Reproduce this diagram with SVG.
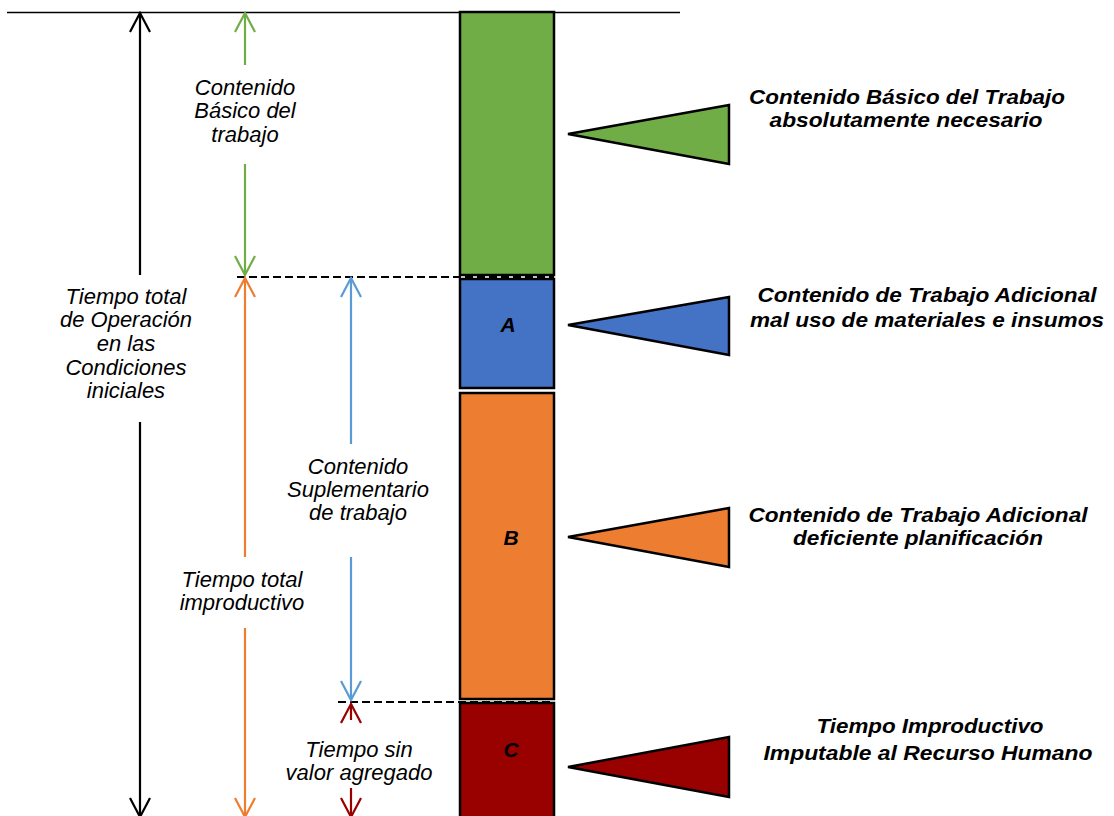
<svg xmlns="http://www.w3.org/2000/svg" width="1114" height="816" viewBox="0 0 1114 816">
<style>
.bar{stroke:#000;stroke-width:2.5}
.tri{stroke:#000;stroke-width:2.5;stroke-linejoin:miter}
.lbl{font-family:"Liberation Sans",Arial,sans-serif;font-size:21px;font-weight:bold;font-style:italic;fill:#000;text-anchor:middle}
.dim{font-family:"Liberation Sans",Arial,sans-serif;font-size:22px;font-style:italic;fill:#000;text-anchor:middle}
.ax{fill:none;stroke-width:2.2}
.dash{fill:none;stroke:#000;stroke-width:1.8;stroke-dasharray:8 4}
</style>
<defs>
<marker id="mk" viewBox="-22 -12 24 24" markerWidth="24" markerHeight="24" refX="0" refY="0" orient="auto-start-reverse" markerUnits="userSpaceOnUse"><path d="M-19,-10 L0,0 L-19,10" fill="none" stroke="#000" stroke-width="2.2"/></marker>
<marker id="mg" viewBox="-22 -12 24 24" markerWidth="24" markerHeight="24" refX="0" refY="0" orient="auto-start-reverse" markerUnits="userSpaceOnUse"><path d="M-19,-10 L0,0 L-19,10" fill="none" stroke="#70AD47" stroke-width="2.2"/></marker>
<marker id="mo" viewBox="-22 -12 24 24" markerWidth="24" markerHeight="24" refX="0" refY="0" orient="auto-start-reverse" markerUnits="userSpaceOnUse"><path d="M-19,-10 L0,0 L-19,10" fill="none" stroke="#ED7D31" stroke-width="2.2"/></marker>
<marker id="mb" viewBox="-22 -12 24 24" markerWidth="24" markerHeight="24" refX="0" refY="0" orient="auto-start-reverse" markerUnits="userSpaceOnUse"><path d="M-19,-10 L0,0 L-19,10" fill="none" stroke="#5B9BD5" stroke-width="2.2"/></marker>
<marker id="mr" viewBox="-22 -12 24 24" markerWidth="24" markerHeight="24" refX="0" refY="0" orient="auto-start-reverse" markerUnits="userSpaceOnUse"><path d="M-19,-10 L0,0 L-19,10" fill="none" stroke="#990000" stroke-width="2.2"/></marker>
</defs>
<rect width="1114" height="816" fill="#fff"/>
<line x1="7" y1="12.5" x2="680" y2="12.5" stroke="#000" stroke-width="1.5"/>

<g id="bar-basico"><rect class="bar" x="460" y="12" width="94" height="263" fill="#70AD47"/></g>
<g id="bar-a"><rect class="bar" x="460" y="279" width="94" height="109" fill="#4472C4"/><text class="lbl" x="508" y="332">A</text></g>
<g id="bar-b"><rect class="bar" x="460" y="393" width="94" height="306" fill="#ED7D31"/><text class="lbl" x="511" y="545">B</text></g>
<g id="bar-c"><rect class="bar" x="460" y="703" width="94" height="125" fill="#990000"/><text class="lbl" x="511" y="757">C</text></g>

<g id="flag-basico"><polygon class="tri" points="568,134 729,105 729,164" fill="#70AD47"/>
<text class="lbl" x="907" y="104" textLength="316" lengthAdjust="spacingAndGlyphs">Contenido Básico del Trabajo</text>
<text class="lbl" x="906" y="127" textLength="273" lengthAdjust="spacingAndGlyphs">absolutamente necesario</text></g>
<g id="flag-a"><polygon class="tri" points="568,325 729,297 729,355" fill="#4472C4"/>
<text class="lbl" x="927" y="302" textLength="339" lengthAdjust="spacingAndGlyphs">Contenido de Trabajo Adicional</text>
<text class="lbl" x="927" y="327" textLength="354" lengthAdjust="spacingAndGlyphs">mal uso de materiales e insumos</text></g>
<g id="flag-b"><polygon class="tri" points="568,537 729,508 729,567" fill="#ED7D31"/>
<text class="lbl" x="918" y="522" textLength="339" lengthAdjust="spacingAndGlyphs">Contenido de Trabajo Adicional</text>
<text class="lbl" x="918" y="545" textLength="250" lengthAdjust="spacingAndGlyphs">deficiente planificación</text></g>
<g id="flag-c"><polygon class="tri" points="568,767 729,737 729,797" fill="#990000"/>
<text class="lbl" x="930" y="733" textLength="227" lengthAdjust="spacingAndGlyphs">Tiempo Improductivo</text>
<text class="lbl" x="928" y="760" textLength="329" lengthAdjust="spacingAndGlyphs">Imputable al Recurso Humano</text></g>

<g id="label-total"><text class="dim" x="126" y="304">Tiempo total</text><text class="dim" x="126" y="327">de Operación</text><text class="dim" x="126" y="351">en las</text><text class="dim" x="126" y="375">Condiciones</text><text class="dim" x="126" y="398">iniciales</text></g>
<g id="label-basico"><text class="dim" x="245" y="95">Contenido</text><text class="dim" x="245" y="118">Básico del</text><text class="dim" x="245" y="142">trabajo</text></g>
<g id="label-suplementario"><text class="dim" x="358" y="474">Contenido</text><text class="dim" x="358" y="497">Suplementario</text><text class="dim" x="358" y="520">de trabajo</text></g>
<g id="label-improductivo"><text class="dim" x="242" y="587">Tiempo total</text><text class="dim" x="242" y="610">improductivo</text></g>
<g id="label-sinvalor"><text class="dim" x="359" y="757">Tiempo sin</text><text class="dim" x="359" y="780">valor agregado</text></g>

<g id="connectors">
<line class="dash" x1="237" y1="277" x2="554" y2="277"/>
<line class="dash" x1="338" y1="702" x2="554" y2="702"/>
<line class="ax" stroke="#000" x1="140" y1="13" x2="140" y2="275" marker-start="url(#mk)"/>
<line class="ax" stroke="#000" x1="140" y1="422" x2="140" y2="817" marker-end="url(#mk)"/>
<line class="ax" stroke="#70AD47" x1="245" y1="13" x2="245" y2="65" marker-start="url(#mg)"/>
<line class="ax" stroke="#70AD47" x1="245" y1="164" x2="245" y2="275" marker-end="url(#mg)"/>
<line class="ax" stroke="#ED7D31" x1="245" y1="278" x2="245" y2="557" marker-start="url(#mo)"/>
<line class="ax" stroke="#ED7D31" x1="245" y1="628" x2="245" y2="817" marker-end="url(#mo)"/>
<line class="ax" stroke="#5B9BD5" x1="351" y1="278" x2="351" y2="444" marker-start="url(#mb)"/>
<line class="ax" stroke="#5B9BD5" x1="351" y1="557" x2="351" y2="700" marker-end="url(#mb)"/>
<line class="ax" stroke="#990000" x1="351" y1="704" x2="351" y2="720" marker-start="url(#mr)"/>
<line class="ax" stroke="#990000" x1="351" y1="788" x2="351" y2="817" marker-end="url(#mr)"/>
</g>
</svg>
